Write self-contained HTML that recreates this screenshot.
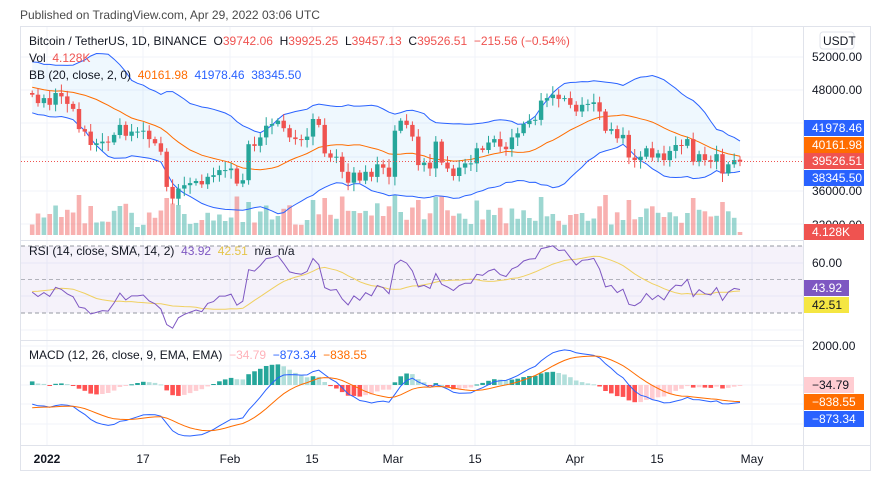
<!DOCTYPE html>
<html><head><meta charset="utf-8"><style>
body{margin:0;background:#fff;width:896px;height:478px;overflow:hidden;font-family:"Liberation Sans",sans-serif}
svg{display:block}
text{font-family:"Liberation Sans",sans-serif;font-size:12px}
</style></head><body>
<svg id="s" width="896" height="478" xmlns="http://www.w3.org/2000/svg">
<text x="20" y="19" font-size="12" fill="#4a4a4a">Published on TradingView.com, Apr 29, 2022 03:06 UTC</text>
<rect x="20.5" y="26.5" width="850" height="444" fill="none" stroke="#e0e3eb"/>
<g id="g"></g>
</svg>
<script>
var pre=[57000,58100,57500,56800,57200,56300,57100,53700,54300,57800,57200,56500,53600,49200,49400,50500,50600,50500,47600,47100,49300,50100,48300,48900,46700,48300,47600,47000,46200,46800,46700,48900,48600,50800,50400,50800,50700,47500,46500];
var c=[47500,46500,47100,46300,47700,47300,46400,45800,43400,43100,41500,41700,41900,41800,42700,43900,42600,43100,43100,43200,42200,41700,40700,36500,35100,36300,36700,36950,37200,36800,37700,37900,38500,38500,38700,36900,37300,41600,41400,42400,43800,44000,44400,43500,42400,42200,42100,42500,44600,43900,40500,40000,40100,38300,37000,38200,37250,38300,37700,39200,38800,37700,43200,44400,43900,42500,39100,39400,38700,41900,39400,38700,37800,38800,39300,39300,41100,40900,41800,42200,41300,41000,42400,42900,44000,44400,44500,46800,47100,47500,47000,47100,46300,45500,46300,46400,46600,45500,43200,43400,42300,42700,40000,39700,40100,41100,40000,40500,39700,40800,41500,41400,42200,39500,40400,39700,39500,40400,38100,39200,39700,39526];
var all=pre.concat(c),P=pre.length,N=c.length;
var dx=5.85,x0=740-(N-1)*dx;
function X(i){return x0+i*dx}
function Y(p){return 57+(52000-p)*0.00838}
function RY(v){return 263+(60-v)*1.675}
function MY(v){return 385-v*0.0195}
var h='';
var gx=[47,143,230,312,393,475,575,657,752];
gx.forEach(function(x){h+='<line x1="'+x+'" y1="27" x2="'+x+'" y2="445" stroke="#f0f3fa"/>'});
[57,90,123,157,191,224].forEach(function(y){h+='<line x1="21" y1="'+y+'" x2="803" y2="'+y+'" stroke="#f0f3fa"/>'});
[263,296,330].forEach(function(y){h+='<line x1="21" y1="'+y+'" x2="803" y2="'+y+'" stroke="#f0f3fa"/>'});
[346,366,385,404,424].forEach(function(y){h+='<line x1="21" y1="'+y+'" x2="803" y2="'+y+'" stroke="#f0f3fa"/>'});
var mid=[],up=[],lo=[];
for(var i=0;i<N;i++){var k=P+i,s=0,q=0;for(var j=k-19;j<=k;j++)s+=all[j];var m=s/20;for(j=k-19;j<=k;j++)q+=(all[j]-m)*(all[j]-m);var sd=Math.sqrt(q/20);mid.push(m);up.push(m+2*sd);lo.push(m-2*sd);}
function pl(arr,f){return arr.map(function(v,i){return X(i).toFixed(1)+','+f(v).toFixed(1)}).join(' ')}
var poly=pl(up,Y)+' '+lo.map(function(v,i){return i}).reverse().map(function(i){return X(i).toFixed(1)+','+Y(lo[i]).toFixed(1)}).join(' ');
h+='<polygon points="'+poly+'" fill="#2196f3" fill-opacity="0.07"/>';
for(i=0;i<N;i++){var o=i?c[i-1]:47700,cl=c[i];var vh=8+Math.min(24,Math.abs(cl-o)/80)+((i*37)%9);if(i==N-1)vh=3;var col=cl>=o?'#26a69a':'#ef5350';h+='<rect x="'+(X(i)-2.3).toFixed(1)+'" y="'+(235-vh).toFixed(1)+'" width="4.6" height="'+vh.toFixed(1)+'" fill="'+col+'" fill-opacity="0.45"/>';}
h+='<polyline points="'+pl(up,Y)+'" fill="none" stroke="#2962ff" stroke-width="1"/>';
h+='<polyline points="'+pl(lo,Y)+'" fill="none" stroke="#2962ff" stroke-width="1"/>';
h+='<polyline points="'+pl(mid,Y)+'" fill="none" stroke="#ff6d00" stroke-width="1"/>';
for(i=0;i<N;i++){var o=i?c[i-1]:47700,cl=c[i];if(i==N-1)o=39742;var hi=Math.max(o,cl)+300+((i*53)%7)*120,lw=Math.min(o,cl)-300-((i*29)%7)*120;var col=cl>=o?'#26a69a':'#ef5350';var x=X(i);h+='<line x1="'+x.toFixed(1)+'" y1="'+Y(hi).toFixed(1)+'" x2="'+x.toFixed(1)+'" y2="'+Y(lw).toFixed(1)+'" stroke="'+col+'"/>';var yt=Y(Math.max(o,cl)),yb=Y(Math.min(o,cl));h+='<rect x="'+(x-2.2).toFixed(1)+'" y="'+yt.toFixed(1)+'" width="4.4" height="'+Math.max(1,yb-yt).toFixed(1)+'" fill="'+col+'"/>';}
h+='<line x1="21" y1="161.5" x2="803" y2="161.5" stroke="#ef5350" stroke-dasharray="1,2"/>';
var g=0,l=0,rsi=[];for(i=1;i<=14;i++){var d=all[i]-all[i-1];if(d>0)g+=d;else l-=d}g/=14;l/=14;
var rAll=[];for(i=15;i<all.length;i++){var d=all[i]-all[i-1];g=(g*13+Math.max(d,0))/14;l=(l*13+Math.max(-d,0))/14;rAll[i]=100-100/(1+g/l);}
for(i=0;i<N;i++)rsi.push(rAll[P+i]);
var rs=[];for(i=0;i<N;i++){var s=0;for(j=0;j<14;j++)s+=rAll[P+i-j];rs.push(s/14);}
h+='<rect x="21" y="246" width="782" height="67" fill="#7e57c2" fill-opacity="0.08"/>';
h+='<line x1="21" y1="246" x2="803" y2="246" stroke="#9598a1" stroke-dasharray="4,3"/><line x1="21" y1="279.5" x2="803" y2="279.5" stroke="#9598a1" stroke-opacity="0.7" stroke-dasharray="4,3"/><line x1="21" y1="313" x2="803" y2="313" stroke="#9598a1" stroke-dasharray="4,3"/>';
h+='<polyline points="'+pl(rs,RY)+'" fill="none" stroke="#f0d060" stroke-width="1"/>';
h+='<polyline points="'+pl(rsi,RY)+'" fill="none" stroke="#7e57c2" stroke-width="1"/>';
var e12=all[0],e26=all[0],mac=[],sig,sigs=[];
for(i=0;i<all.length;i++){e12+=(all[i]-e12)*2/13;e26+=(all[i]-e26)*2/27;var m=e12-e26;sig=(i==0)?m:sig+(m-sig)*2/10;if(i>=P){mac.push(m);sigs.push(sig);}}
for(i=0;i<N;i++){var hv=mac[i]-sigs[i],pv=i?mac[i-1]-sigs[i-1]:hv;var col=hv>=0?(hv>=pv?'#26a69a':'#b2dfdb'):(hv<pv?'#ff5252':'#ffcdd2');var y0=MY(0),y1=MY(hv);h+='<rect x="'+(X(i)-2.3).toFixed(1)+'" y="'+Math.min(y0,y1).toFixed(1)+'" width="4.6" height="'+Math.max(1,Math.abs(y1-y0)).toFixed(1)+'" fill="'+col+'"/>';}
h+='<polyline points="'+pl(mac,MY)+'" fill="none" stroke="#2962ff" stroke-width="1"/>';
h+='<polyline points="'+pl(sigs,MY)+'" fill="none" stroke="#ff6d00" stroke-width="1"/>';
h+='<line x1="21" y1="240.5" x2="870" y2="240.5" stroke="#e0e3eb"/><line x1="21" y1="340.5" x2="870" y2="340.5" stroke="#e0e3eb"/><line x1="21" y1="445.5" x2="870" y2="445.5" stroke="#e0e3eb"/><line x1="803.5" y1="27" x2="803.5" y2="470" stroke="#e0e3eb"/>';
h+='<rect x="804" y="27" width="66" height="418" fill="#fff"/>';
function al(y,t){h+='<text x="812" y="'+(y+4)+'" fill="#131722">'+t+'</text>'}
al(57,'52000.00');al(90,'48000.00');al(191,'36000.00');al(225,'32000.00');al(263,'60.00');al(346,'2000.00');
h+='<rect x="820" y="32" width="34" height="17" rx="3" fill="#fff" stroke="#e0e3eb"/><text x="823" y="45" fill="#131722">USDT</text>';
function tag(y,bg,fg,t){h+='<rect x="804" y="'+(y-8)+'" width="60" height="16" fill="'+bg+'"/><text x="812" y="'+(y+4)+'" fill="'+fg+'">'+t+'</text>'}
tag(128,'#2962ff','#fff','41978.46');tag(145,'#ff6d00','#fff','40161.98');tag(161,'#ef5350','#fff','39526.51');tag(178,'#2962ff','#fff','38345.50');
tag(232,'#ef5350','#fff','4.128K');
h+='<rect x="804" y="280" width="45" height="16" fill="#7e57c2"/><text x="812" y="292" fill="#fff">43.92</text><rect x="804" y="297" width="45" height="16" fill="#f5e642"/><text x="812" y="309" fill="#131722">42.51</text>';
h+='<rect x="804" y="377" width="50" height="16" fill="#ffcdd2"/><text x="812" y="389" fill="#131722">−34.79</text>';
tag(402,'#ff6d00','#fff','−838.55');tag(419,'#2962ff','#fff','−873.34');
var tl=[[47,'2022',1],[143,'17'],[230,'Feb'],[312,'15'],[393,'Mar'],[475,'15'],[575,'Apr'],[657,'15'],[752,'May']];
tl.forEach(function(t){h+='<text x="'+t[0]+'" y="463" text-anchor="middle" fill="#131722"'+(t[2]?' font-weight="bold"':'')+'>'+t[1]+'</text>'});
var ws=' xml:space="preserve"';
h+='<text'+ws+' x="29" y="45" fill="#131722">Bitcoin / TetherUS, 1D, BINANCE  O<tspan fill="#ef5350">39742.06</tspan>  H<tspan fill="#ef5350">39925.25</tspan>  L<tspan fill="#ef5350">39457.13</tspan>  C<tspan fill="#ef5350">39526.51</tspan>  <tspan fill="#ef5350">−215.56 (−0.54%)</tspan></text>';
h+='<text'+ws+' x="29" y="62" fill="#131722">Vol  <tspan fill="#ef5350">4.128K</tspan></text>';
h+='<text'+ws+' x="29" y="79" fill="#131722">BB (20, close, 2, 0)  <tspan fill="#ff6d00">40161.98</tspan>  <tspan fill="#2962ff">41978.46</tspan>  <tspan fill="#2962ff">38345.50</tspan></text>';
h+='<text'+ws+' x="29" y="255" fill="#131722">RSI (14, close, SMA, 14, 2)  <tspan fill="#7e57c2">43.92</tspan>  <tspan fill="#e5c54a">42.51</tspan>  n/a  n/a</text>';
h+='<text'+ws+' x="29" y="359" fill="#131722">MACD (12, 26, close, 9, EMA, EMA)  <tspan fill="#ffb3ba">−34.79</tspan>  <tspan fill="#2962ff">−873.34</tspan>  <tspan fill="#ff6d00">−838.55</tspan></text>';
document.getElementById('g').innerHTML=h;
</script>
</body></html>
